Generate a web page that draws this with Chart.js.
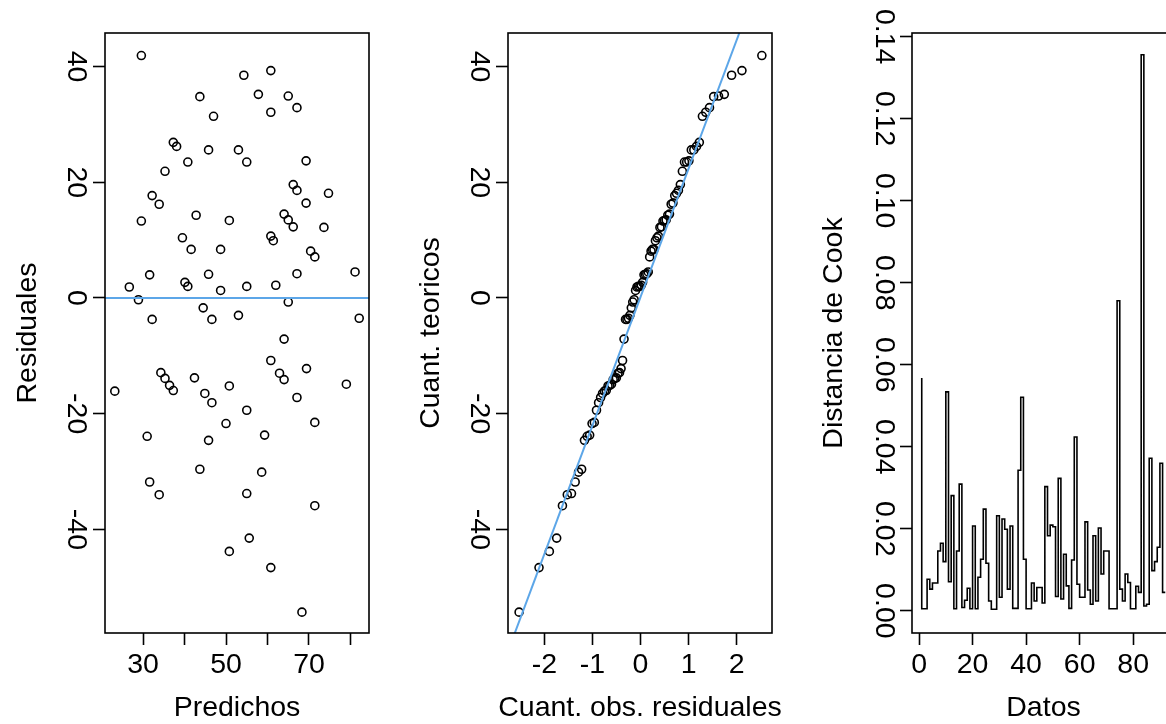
<!DOCTYPE html>
<html>
<head>
<meta charset="utf-8">
<script src="https://cdn.jsdelivr.net/npm/chart.js@4.4.1/dist/chart.umd.min.js"></script>
<style>
html, body { margin: 0; padding: 0; background: #fff; overflow: hidden; }
#wrap { position: relative; width: 1166px; height: 724px; overflow: hidden; }
.panel { position: absolute; top: 0; width: 403px; height: 724px; }
</style>
</head>
<body>
<div id="wrap">
  <div class="panel" style="left:0px"><canvas id="residPanel" width="403" height="724"></canvas></div>
  <div class="panel" style="left:403px"><canvas id="qqPanel" width="403" height="724"></canvas></div>
  <div class="panel" style="left:806px"><canvas id="cookPanel" width="403" height="724"></canvas></div>
</div>
<script>
// valores
const predichos = [29.6, 54.3, 60.8, 43.7, 57.8, 65.0, 67.1, 60.8, 47.0, 37.3, 38.1, 45.8, 53.0, 40.8, 55.0,
    69.3, 35.3, 66.2, 67.1, 74.7, 32.2, 33.9, 69.3, 42.8, 64.0, 65.0, 50.8, 29.6, 66.2, 73.6,
    39.5, 60.8, 61.4, 41.6, 48.7, 70.4, 71.4, 31.6, 45.8, 67.1, 81.1, 26.7, 40.1, 40.8, 48.7,
    55.0, 62.0, 28.9, 65.0, 44.5, 32.2, 46.6, 53.0, 82.1, 64.0, 60.8, 69.4, 34.3, 35.3, 36.4,
    37.3, 42.4, 62.9, 64.0, 23.2, 50.8, 44.9, 46.6, 79.0, 67.1, 55.0, 50.0, 71.4, 31.0, 59.3,
    45.8, 43.7, 58.6, 31.6, 33.9, 55.0, 71.4, 55.6, 50.8, 60.8, 68.3];
const residuales = [41.9, 38.5, 39.3, 34.8, 35.2, 34.9, 32.9, 32.1, 31.4, 26.9, 26.2, 25.6, 25.6, 23.5, 23.5,
    23.7, 21.9, 19.6, 18.6, 18.1, 17.7, 16.2, 16.4, 14.3, 14.5, 13.5, 13.4, 13.3, 12.3, 12.2,
    10.4, 10.7, 9.9, 8.4, 8.4, 8.1, 7.1, 4.0, 4.1, 4.2, 4.5, 1.9, 2.7, 2.0, 1.3,
    2.0, 2.2, -0.3, -0.7, -1.7, -3.7, -3.7, -3.0, -3.5, -7.1, -10.8, -12.2, -12.9, -13.9, -15.1,
    -16.0, -13.8, -13.0, -14.1, -16.1, -15.2, -16.5, -18.1, -14.9, -17.2, -19.4, -21.7, -21.5, -23.9, -23.7,
    -24.6, -29.6, -30.1, -31.8, -34.0, -33.8, -35.9, -41.5, -43.8, -46.6, -54.3];

// cuantiles normales teoricos para n = 86
const qqTeoricos = [-2.524, -2.110, -1.895, -1.743, -1.623, -1.522, -1.435, -1.358, -1.288, -1.224,
    -1.165, -1.109, -1.057, -1.007, -0.960, -0.915, -0.871, -0.829, -0.789, -0.750,
    -0.712, -0.675, -0.638, -0.603, -0.568, -0.534, -0.501, -0.468, -0.436, -0.404,
    -0.373, -0.342, -0.311, -0.281, -0.250, -0.220, -0.191, -0.161, -0.132, -0.102,
    -0.073, -0.044, -0.015, 0.015, 0.044, 0.073, 0.102, 0.132, 0.161, 0.191,
    0.220, 0.250, 0.281, 0.311, 0.342, 0.373, 0.404, 0.436, 0.468, 0.501,
    0.534, 0.568, 0.603, 0.638, 0.675, 0.712, 0.750, 0.789, 0.829, 0.871,
    0.915, 0.960, 1.007, 1.057, 1.109, 1.165, 1.224, 1.288, 1.358, 1.435,
    1.522, 1.623, 1.743, 1.895, 2.110, 2.524];

const cookDist = [0.0568, 0.0005, 0.0005, 0.0077, 0.0053, 0.0068, 0.0068, 0.0146, 0.0165, 0.0120,
    0.0534, 0.0071, 0.0281, 0.0005, 0.0146, 0.0309, 0.0008, 0.0026, 0.0055, 0.0005,
    0.0207, 0.0005, 0.0082, 0.0126, 0.0248, 0.0116, 0.0024, 0.0004, 0.0004, 0.0232,
    0.0033, 0.0224, 0.0199, 0.0053, 0.0207, 0.0006, 0.0006, 0.0343, 0.0521, 0.0126,
    0.0005, 0.0005, 0.0068, 0.0024, 0.0057, 0.0057, 0.0019, 0.0303, 0.0183, 0.0209,
    0.0205, 0.0035, 0.0323, 0.0029, 0.0138, 0.0061, 0.0006, 0.0124, 0.0424, 0.0065,
    0.0033, 0.0033, 0.0217, 0.0051, 0.0016, 0.0183, 0.0024, 0.0202, 0.0090, 0.0146,
    0.0146, 0.0005, 0.0005, 0.0005, 0.0756, 0.0053, 0.0024, 0.0090, 0.0069, 0.0005,
    0.0005, 0.0060, 0.0045, 0.1356, 0.0012, 0.0016, 0.0372, 0.0098, 0.0120, 0.0155,
    0.0360, 0.0045];

// lineas de referencia
const refLineX = [15, 90];
const refLineY = [0, 0];
const qqLineX = [-3, 3];
const qqLineY = [-66.5, 66.8];

// ticks
const ticksPredichos = [30, 40, 50, 60, 70, 80];
const labelsPredichos = ["30", "", "50", "", "70", ""];
const ticksResid = [-40, -20, 0, 20, 40];
const ticksQQ = [-2, -1, 0, 1, 2];
const ticksDatos = [0, 20, 40, 60, 80];
const ticksCook = [0, 0.02, 0.04, 0.06, 0.08, 0.10, 0.12, 0.14];

const FONT = {family: "'Liberation Sans', Arial, sans-serif", size: 28.5};
const BLUE = "#5ca6e8";

Chart.defaults.color = "#000";
Chart.defaults.font = FONT;

// caja alrededor del area de datos, como box() en R
const boxPlugin = {
    id: "box",
    afterDatasetsDraw(chart) {
        const a = chart.chartArea;
        const ctx = chart.ctx;
        ctx.save();
        ctx.strokeStyle = "#000";
        ctx.lineWidth = 1.6;
        ctx.strokeRect(a.left, a.top, a.right - a.left, a.bottom - a.top);
        ctx.restore();
    }
};

// titulo del eje x sin recortar al ancho del eje
const xTitlePlugin = {
    id: "xTitle",
    afterDraw(chart, args, opts) {
        const a = chart.chartArea;
        const ctx = chart.ctx;
        ctx.save();
        ctx.font = FONT.size + "px " + FONT.family;
        ctx.fillStyle = "#000";
        ctx.textAlign = "center";
        ctx.textBaseline = "middle";
        ctx.fillText(opts.text, (a.left + a.right) / 2, opts.y);
        ctx.restore();
    }
};

function xAxis(min, max, ticks, labels) {
    return {
        type: "linear", min: min, max: max,
        afterBuildTicks: (scale) => { scale.ticks = ticks.map((v) => ({value: v})); },
        afterFit: (scale) => { scale.height = 91; },
        grid: {drawOnChartArea: false, drawTicks: true, tickLength: 12, tickWidth: 1.6, tickColor: "#000"},
        border: {display: false},
        ticks: {
            autoSkip: false, maxRotation: 0, padding: 3, color: "#000", font: FONT,
            callback: (v, i) => labels ? labels[i] : String(v)
        },
        title: {display: false}
    };
}

function yAxis(min, max, ticks, title, pad, fmt, width) {
    return {
        type: "linear", min: min, max: max,
        afterBuildTicks: (scale) => { scale.ticks = ticks.map((v) => ({value: v})); },
        afterFit: (scale) => { scale.width = width; },
        grid: {drawOnChartArea: false, drawTicks: true, tickLength: 12, tickWidth: 1.6, tickColor: "#000"},
        border: {display: false},
        ticks: {
            autoSkip: false, minRotation: -90, maxRotation: -90, crossAlign: "center",
            padding: pad, color: "#000", font: FONT, callback: fmt
        },
        title: {display: true, text: title, font: FONT, color: "#000", padding: {top: 11, bottom: 0}}
    };
}

function baseOptions(scales, xTitle) {
    return {
        responsive: false,
        animation: false,
        events: [],
        layout: {padding: {top: 33, right: 34, bottom: 0, left: 0}},
        plugins: {
            legend: {display: false},
            tooltip: {enabled: false},
            xTitle: {text: xTitle, y: 708}
        },
        scales: scales
    };
}

function pointsDataset(xs, ys) {
    return {
        type: "scatter",
        data: xs.map((x, i) => ({x: x, y: ys[i]})),
        pointStyle: "circle",
        pointRadius: 4,
        pointBorderWidth: 1.6,
        borderColor: "#000",
        backgroundColor: "rgba(0,0,0,0)",
        order: 1
    };
}

function lineDataset(xs, ys, color) {
    return {
        type: "line",
        data: xs.map((x, i) => ({x: x, y: ys[i]})),
        borderColor: color,
        borderWidth: 2,
        pointRadius: 0,
        fill: false,
        order: 0
    };
}

// panel 1: residuales vs predichos
new Chart(document.getElementById("residPanel"), {
    type: "scatter",
    data: {datasets: [pointsDataset(predichos, residuales), lineDataset(refLineX, refLineY, BLUE)]},
    options: baseOptions({
        x: xAxis(20.84, 84.46, ticksPredichos, labelsPredichos),
        y: yAxis(-57.9, 45.8, ticksResid, "Residuales", -3.6, (v) => String(v), 105)
    }, "Predichos"),
    plugins: [boxPlugin, xTitlePlugin]
});

// panel 2: qq normal
const residOrdenados = residuales.slice().sort((a, b) => a - b);
new Chart(document.getElementById("qqPanel"), {
    type: "scatter",
    data: {datasets: [pointsDataset(qqTeoricos, residOrdenados), lineDataset(qqLineX, qqLineY, BLUE)]},
    options: baseOptions({
        x: xAxis(-2.755, 2.735, ticksQQ, null),
        y: yAxis(-57.9, 45.8, ticksResid, "Cuant. teoricos", -3.6, (v) => String(v), 105)
    }, "Cuant. obs. residuales"),
    plugins: [boxPlugin, xTitlePlugin]
});

// panel 3: distancia de Cook
new Chart(document.getElementById("cookPanel"), {
    type: "line",
    data: {datasets: [{
        data: cookDist.map((v, i) => ({x: i + 1, y: v})),
        stepped: "after",
        borderColor: "#000",
        borderWidth: 1.6,
        pointRadius: 0,
        fill: false
    }]},
    options: baseOptions({
        x: xAxis(-2.64, 95.64, ticksDatos, null),
        y: yAxis(-0.0054, 0.1409, ticksCook, "Distancia de Cook", -11.7, (v) => v.toFixed(2), 106)
    }, "Datos"),
    plugins: [boxPlugin, xTitlePlugin]
});
</script>
</body>
</html>
